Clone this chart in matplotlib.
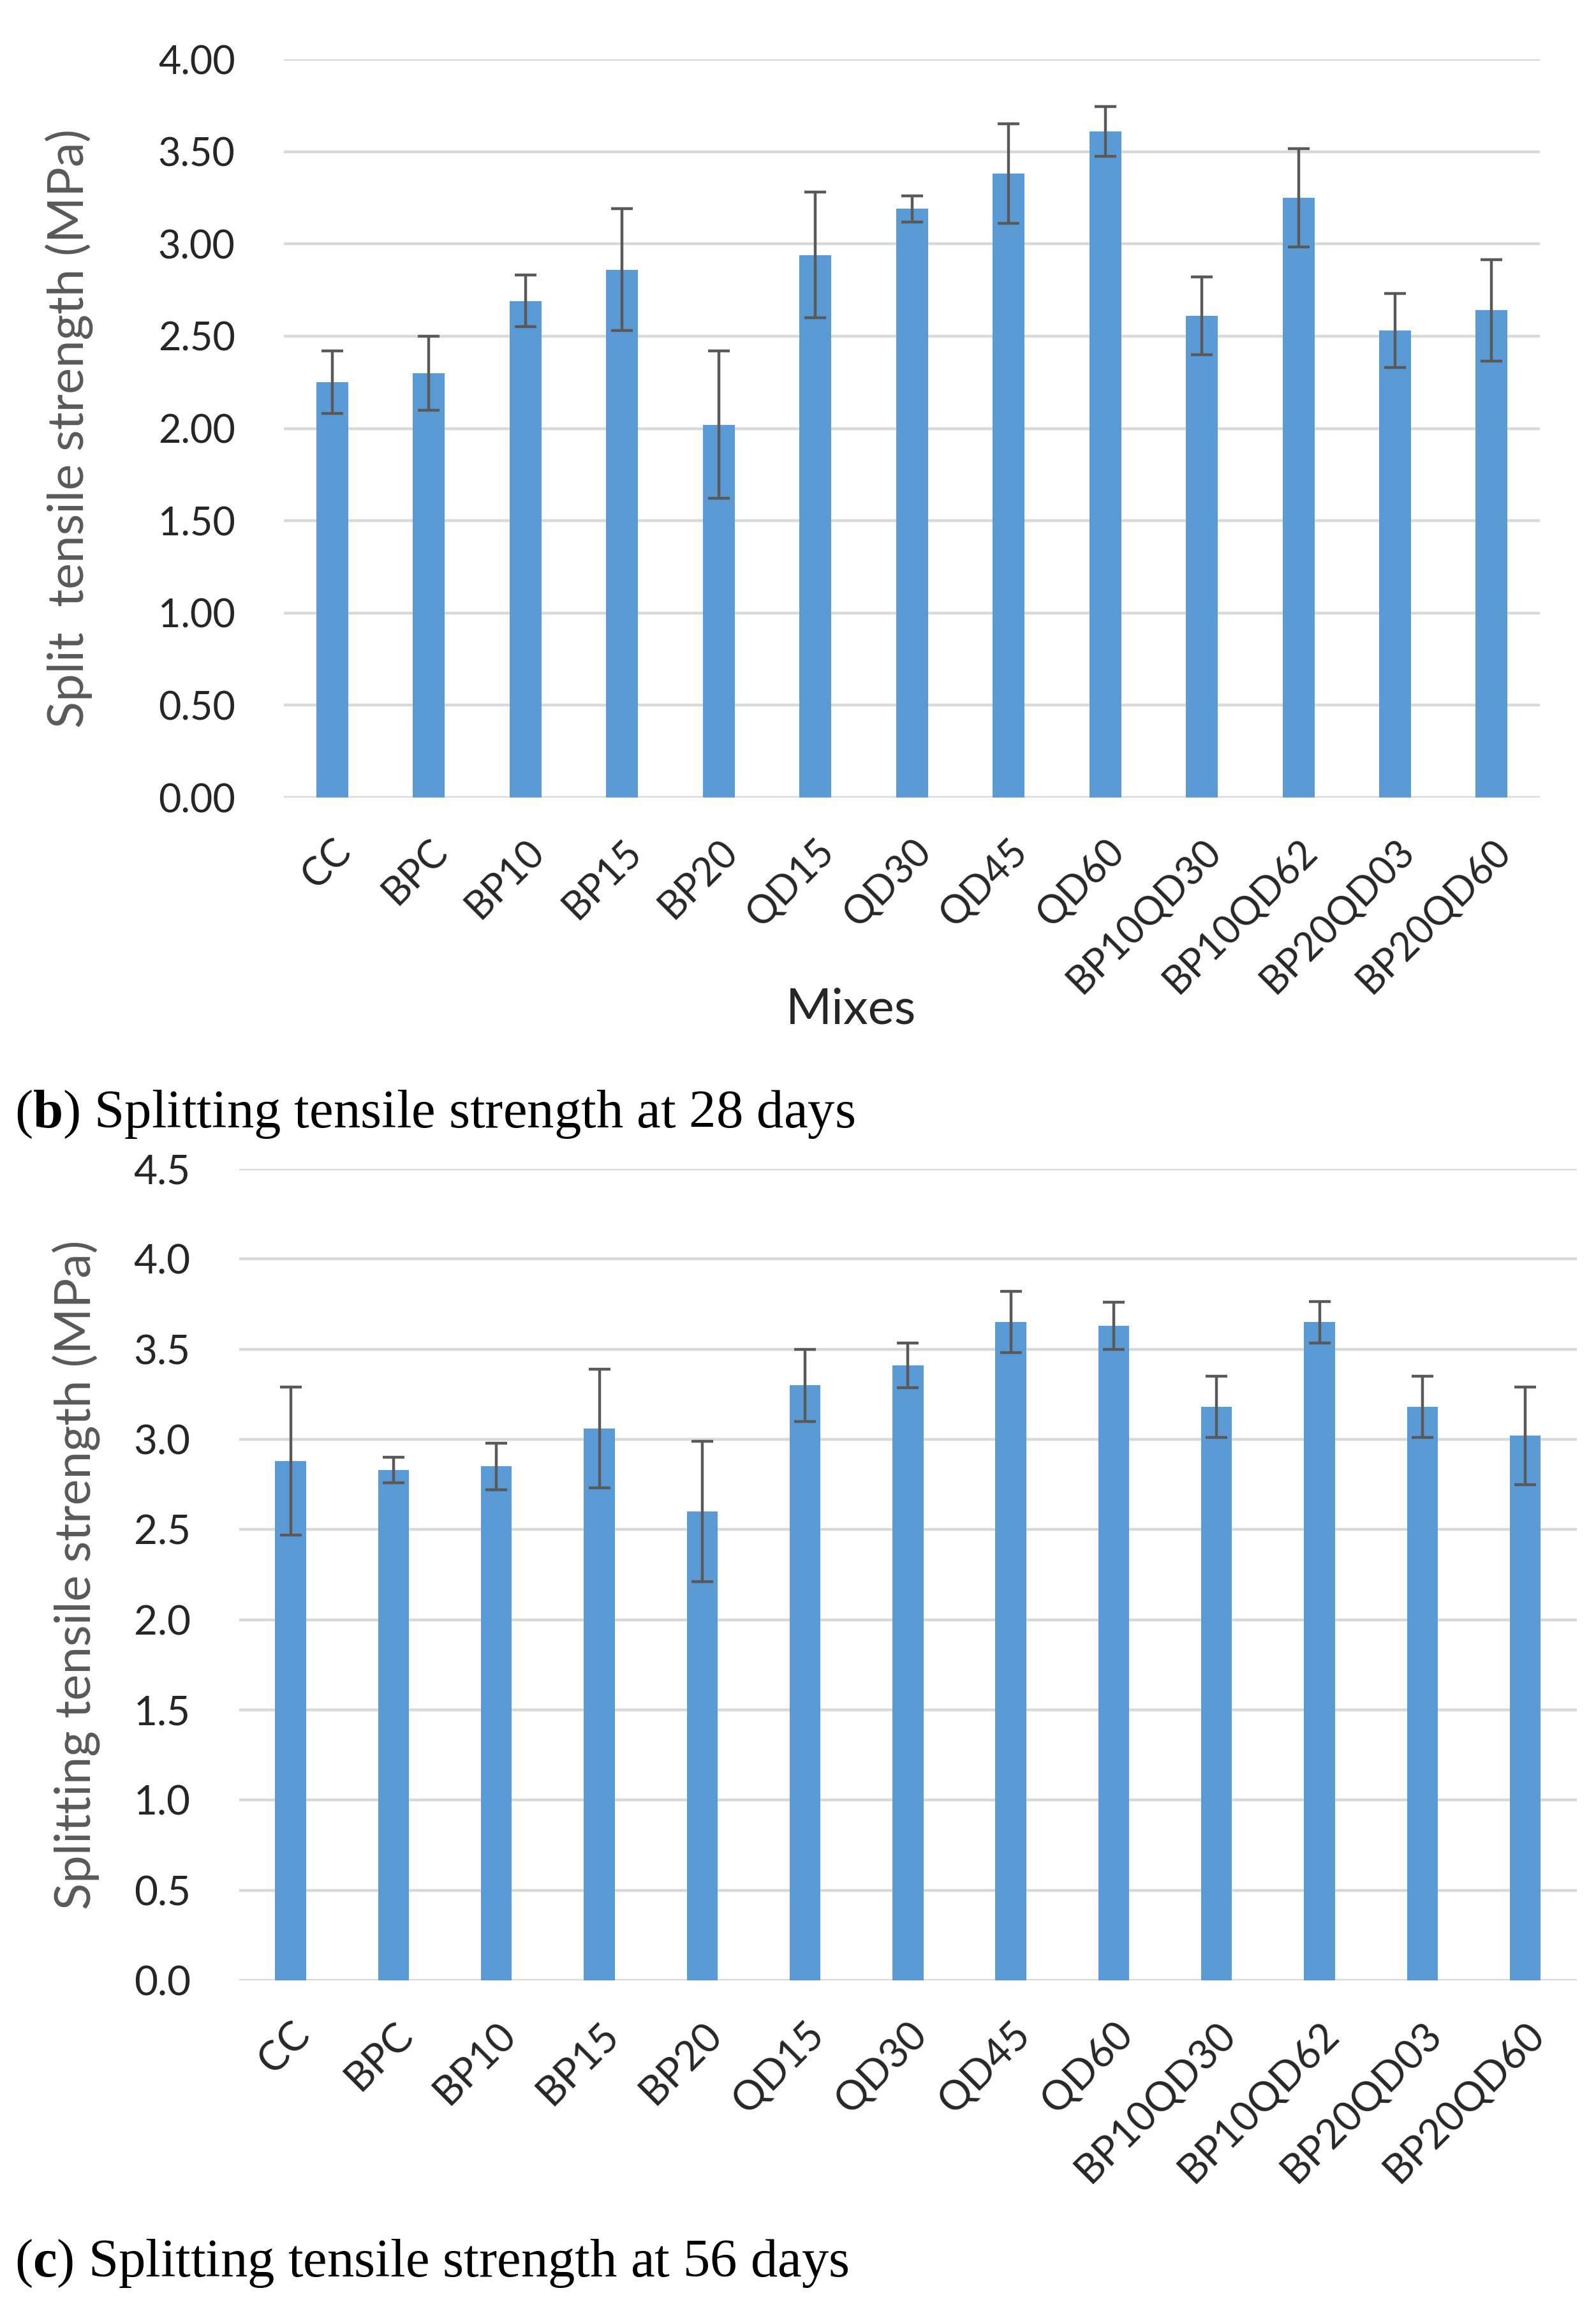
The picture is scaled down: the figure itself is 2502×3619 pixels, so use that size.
import numpy as np
import matplotlib
matplotlib.use("Agg")
import matplotlib.pyplot as plt

BLUE = "#5B9BD5"
GRID = "#D9D9D9"
ERR = "#595959"
INK = "#262626"

mixes = ["CC", "BPC", "BP10", "BP15", "BP20", "QD15", "QD30", "QD45", "QD60",
         "BP10QD30", "BP10QD62", "BP20QD03", "BP20QD60"]

# 28 days
sts28 = [2.25, 2.30, 2.69, 2.86, 2.02, 2.94, 3.19, 3.38, 3.61, 2.61, 3.25, 2.53, 2.64]
err28 = [0.17, 0.20, 0.14, 0.33, 0.40, 0.34, 0.07, 0.27, 0.135, 0.21, 0.265, 0.20, 0.275]

# 56 days
sts56 = [2.88, 2.83, 2.85, 3.06, 2.60, 3.30, 3.41, 3.65, 3.63, 3.18, 3.65, 3.18, 3.02]
err56 = [0.41, 0.07, 0.13, 0.33, 0.39, 0.20, 0.125, 0.17, 0.13, 0.17, 0.115, 0.17, 0.27]

plt.rcParams["font.family"] = ["Lato", "DejaVu Sans"]
plt.rcParams["mathtext.fontset"] = "custom"
plt.rcParams["mathtext.rm"] = "Liberation Serif"
plt.rcParams["mathtext.bf"] = "Liberation Serif:bold"

fig = plt.figure(figsize=(25.02, 36.19), dpi=100)


def panel(rect, vals, errs, ymax, fmt, width, ylabel, fs, lab_x):
    ax = fig.add_axes(rect)
    x = np.arange(len(mixes))
    ax.bar(x, vals, width=width, color=BLUE, zorder=3)
    ax.errorbar(x, vals, yerr=errs, fmt="none", ecolor=ERR, elinewidth=3.2,
                capsize=12, capthick=3.2, zorder=4)
    ax.set_xlim(-0.5, len(mixes) - 0.5)
    ax.set_ylim(0, ymax)
    ticks = np.arange(0, ymax + 0.25, 0.5)
    ax.set_yticks(ticks)
    ax.set_yticklabels([fmt.format(t) for t in ticks], fontsize=fs, color=INK)
    ax.set_xticks(x)
    ax.set_xticklabels(mixes, rotation=45, ha="right", rotation_mode="anchor",
                       fontsize=fs, color=INK)
    ax.tick_params(axis="both", length=0)
    ax.tick_params(axis="x", pad=40)
    ax.tick_params(axis="y", pad=55)
    ax.grid(axis="y", color=GRID, lw=3.2, zorder=0)
    for s in ax.spines.values():
        s.set_visible(False)
    ax.set_ylabel(ylabel, fontsize=56, color="#595959")
    ax.yaxis.set_label_coords(lab_x, 0.5)
    return ax


panel([0.1779, 0.6546, 0.787, 0.3197], sts28, err28, 4.0, "{:.2f}", 0.33,
      "Split  tensile strength (MPa)", 44, -0.152)
panel([0.1499, 0.1423, 0.838, 0.3515], sts56, err56, 4.5, "{:.1f}", 0.30,
      "Splitting tensile strength (MPa)", 46, -0.104)

fig.text(1334 / 2502, 1 - 1583 / 3619, "Mixes", fontsize=56, color=INK,
         ha="center", va="center")

serif = ["Liberation Serif", "DejaVu Serif"]
fig.text(0.009, 1 - 1747 / 3619, r"($\mathbf{b}$) Splitting tensile strength at 28 days",
         fontsize=61, family=serif, va="center")
fig.text(0.009, 1 - 3548 / 3619, r"($\mathbf{c}$) Splitting tensile strength at 56 days",
         fontsize=61, family=serif, va="center")

fig.savefig("out.png", dpi=100, facecolor="white")
